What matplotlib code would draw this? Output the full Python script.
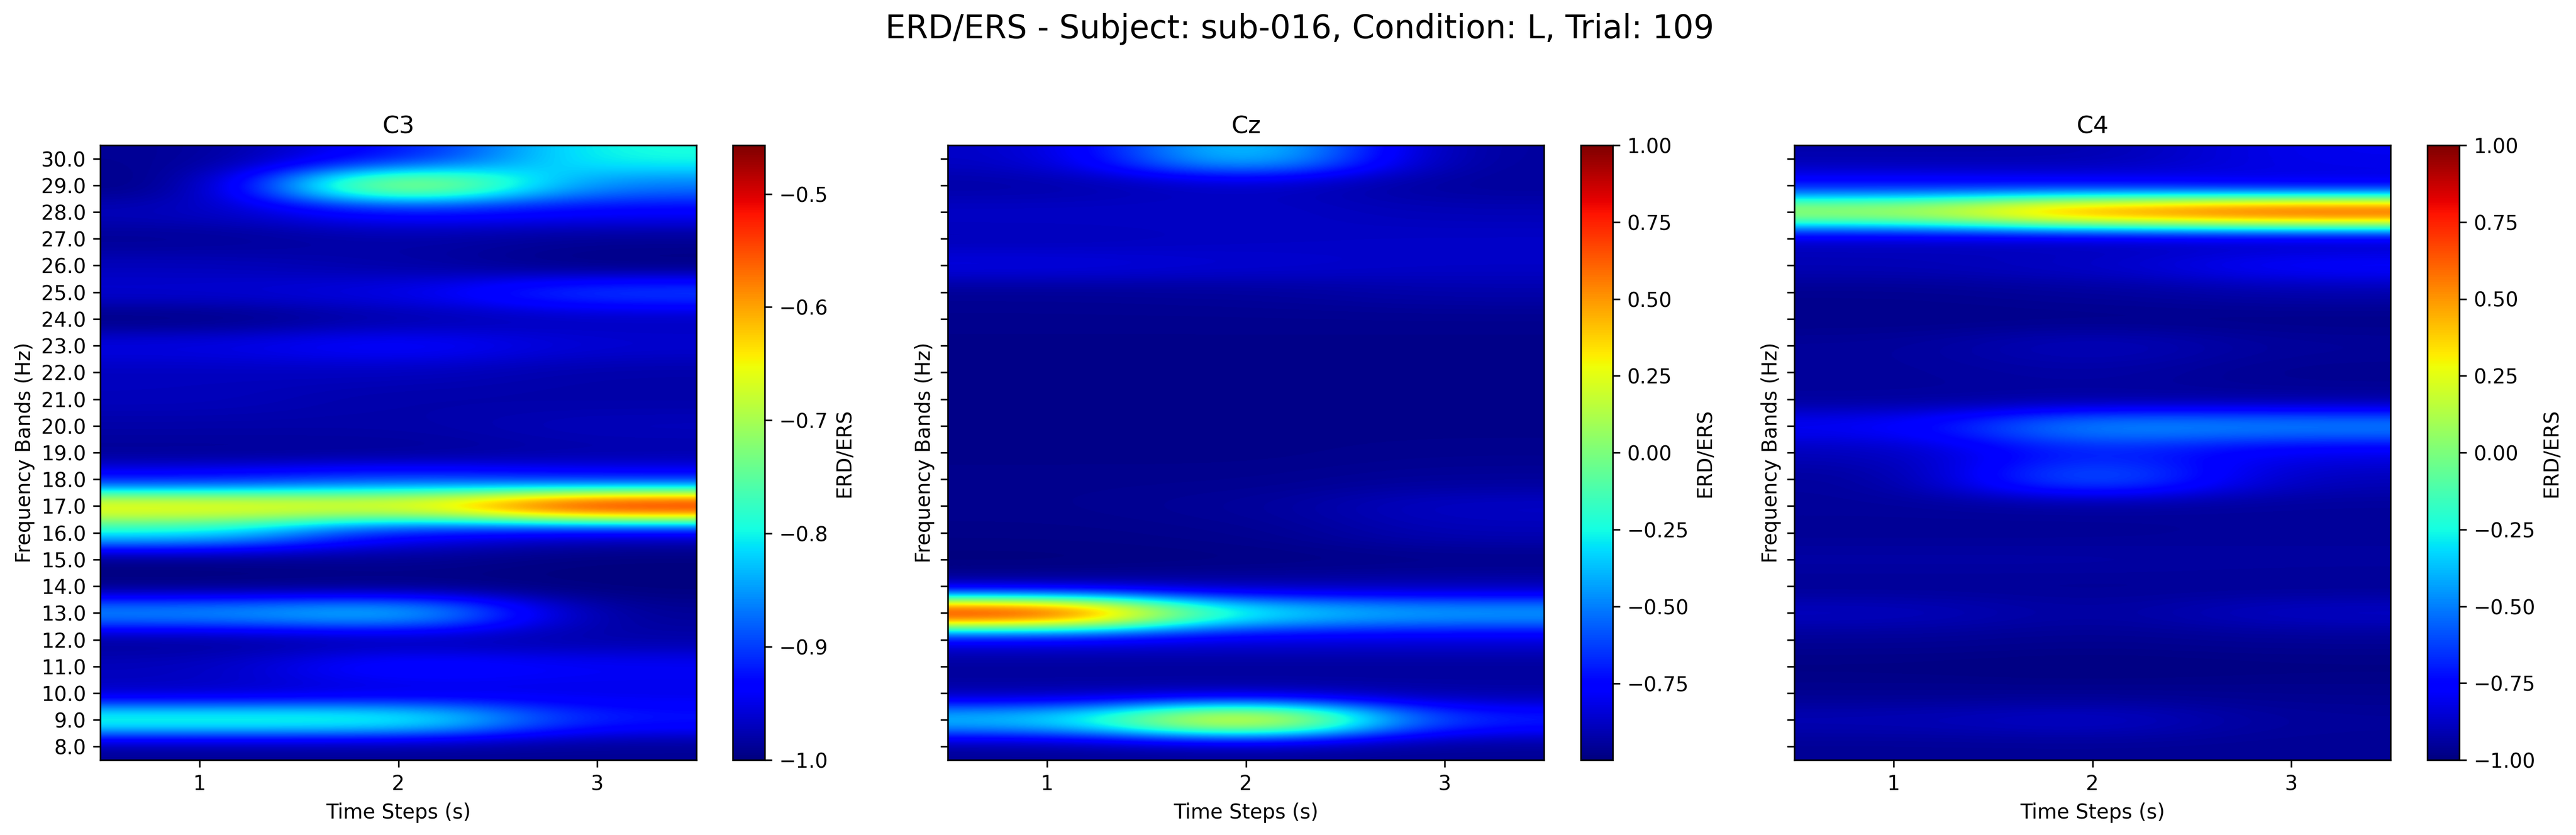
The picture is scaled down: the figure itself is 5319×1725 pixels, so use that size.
import numpy as np
import matplotlib
matplotlib.use("Agg")
import matplotlib.pyplot as plt

freqs = np.arange(8, 31)
channels = ["C3", "Cz", "C4"]

# rows run from 8 Hz up to 30 Hz, columns are time steps 1, 2, 3
c3 = [
    [-0.99, -0.99, -0.99], [-0.76, -0.76, -0.92], [-0.97, -0.96, -0.95], [-0.97, -0.92, -0.94],
    [-0.99, -0.98, -0.98], [-0.84, -0.80, -0.99], [-1.00, -1.00, -1.00], [-1.00, -0.99, -1.00],
    [-0.80, -0.94, -0.97], [-0.62, -0.63, -0.457], [-0.93, -0.90, -0.93], [-0.99, -0.99, -0.98],
    [-0.98, -0.98, -0.97], [-0.97, -0.98, -0.98], [-0.97, -0.97, -0.98], [-0.95, -0.93, -0.96],
    [-1.00, -0.98, -0.97], [-0.96, -0.95, -0.89], [-0.97, -0.98, -1.00], [-0.99, -0.98, -0.99],
    [-0.97, -0.93, -0.94], [-1.00, -0.64, -0.87], [-0.99, -0.93, -0.79],
]
cz = [
    [-0.96, -0.96, -0.96], [-0.30, 0.60, -0.68], [-0.93, -0.93, -0.93], [-0.95, -0.95, -0.95],
    [-0.85, -0.85, -0.85], [1.00, -0.25, -0.38], [-0.95, -0.93, -0.92], [-0.999, -0.99, -0.98],
    [-0.98, -0.97, -0.90], [-0.97, -0.95, -0.87], [-0.97, -0.97, -0.95], [-0.98, -0.98, -0.97],
    [-0.98, -0.98, -0.98], [-0.98, -0.98, -0.98], [-0.98, -0.98, -0.98], [-0.98, -0.98, -0.98],
    [-0.97, -0.97, -0.97], [-0.96, -0.95, -0.92], [-0.82, -0.85, -0.87], [-0.90, -0.88, -0.87],
    [-0.87, -0.87, -0.90], [-0.93, -0.88, -0.95], [-0.88, -0.25, -0.95],
]
c4 = [
    [-0.96, -0.96, -0.96], [-0.90, -0.86, -0.95], [-0.97, -0.97, -0.97], [-0.99, -1.00, -0.99],
    [-0.96, -0.97, -0.96], [-0.88, -0.94, -0.87], [-0.96, -0.96, -0.96], [-0.93, -0.93, -0.94],
    [-0.96, -0.96, -0.95], [-0.95, -0.95, -0.95], [-0.95, -0.50, -0.90], [-0.90, -0.68, -0.82],
    [-0.78, -0.42, -0.45], [-0.95, -0.95, -0.95], [-0.95, -0.93, -0.97], [-0.95, -0.88, -0.95],
    [-0.98, -0.98, -0.98], [-0.97, -0.95, -0.92], [-0.90, -0.87, -0.75], [-0.90, -0.92, -0.93],
    [0.22, 0.72, 0.90], [-0.75, -0.78, -0.85], [-0.92, -0.92, -0.80],
]
panels = [c3, cz, c4]
color_limits = [(None, None), (None, None), (-1, 1)]

W, H = 5319, 1725
ax_left = [207, 1957, 3705]
ax_w = 1231
cb_left = [1513, 3264, 5012]
cb_w = 66
top, bottom = 300, 1570

fig, axes = plt.subplots(1, 3, figsize=(W / 300, H / 300), dpi=300, sharey=True)
fig.suptitle("ERD/ERS - Subject: sub-016, Condition: L, Trial: 109", fontsize=16,
             x=0.5 + 24 / W, y=1 - 60 / H, va="center")

for i, ax in enumerate(axes):
    ax.set_position([ax_left[i] / W, 1 - bottom / H, ax_w / W, (bottom - top) / H])
    vmin, vmax = color_limits[i]
    im = ax.imshow(np.array(panels[i]), aspect="auto", origin="lower", cmap="jet",
                   interpolation="gaussian", extent=[0.5, 3.5, 7.5, 30.5], vmin=vmin, vmax=vmax)
    ax.set_title(channels[i])
    ax.set_xlabel("Time Steps (s)")
    ax.set_ylabel("Frequency Bands (Hz)", labelpad=3)
    ax.set_xticks([1, 2, 3])
    ax.set_yticks(freqs)
    ax.set_yticklabels([f"{f:.1f}" for f in freqs])
    cax = fig.add_axes([cb_left[i] / W, 1 - bottom / H, cb_w / W, (bottom - top) / H])
    cb = fig.colorbar(im, cax=cax)
    cb.set_label("ERD/ERS", labelpad=3)

fig.savefig("out.png", dpi=300)
